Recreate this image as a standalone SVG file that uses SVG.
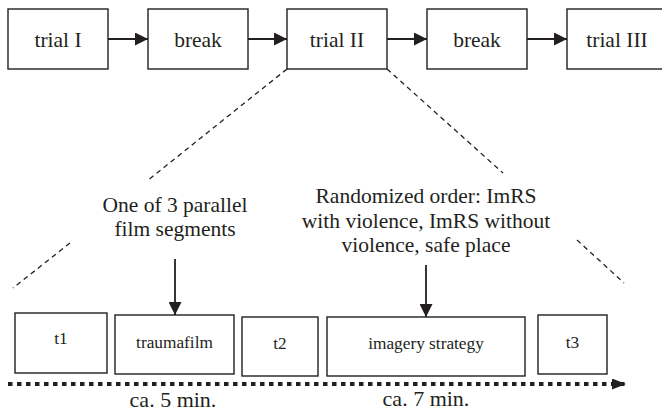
<svg xmlns="http://www.w3.org/2000/svg" width="662" height="417" viewBox="0 0 662 417">
<defs>
<style>
.box{fill:#fff;stroke:#231f20;stroke-width:1.4}
.t{font-family:"Liberation Serif","Times New Roman",serif;fill:#231f20;text-anchor:middle}
.big{font-size:21.5px}
.small{font-size:17.3px}
.arrow{stroke:#231f20;stroke-width:1.8;fill:none}
.dash{stroke:#231f20;stroke-width:1.3;stroke-dasharray:5 4;fill:none}
.dot{stroke:#231f20;stroke-width:4;stroke-dasharray:4.5 4.5;fill:none}
</style>
<marker id="ah" markerWidth="13" markerHeight="13" refX="13" refY="6.5" orient="auto" markerUnits="userSpaceOnUse"><path d="M0,0 L13,6.5 L0,13 z" fill="#231f20"/></marker>
<marker id="ah2" markerWidth="14" markerHeight="11" refX="14" refY="5.5" orient="auto" markerUnits="userSpaceOnUse"><path d="M0,0 L14,5.5 L0,11 z" fill="#231f20"/></marker>
</defs>
<rect width="662" height="417" fill="#fff"/>
<g id="trial1"><rect class="box" x="8" y="9" width="100" height="60"/><text class="t big" x="58" y="46.5">trial I</text></g>
<g id="break1"><rect class="box" x="148" y="9" width="100" height="60"/><text class="t big" x="198" y="46.5">break</text></g>
<g id="trial2"><rect class="box" x="287" y="9" width="100" height="60"/><text class="t big" x="337" y="46.5">trial II</text></g>
<g id="break2"><rect class="box" x="427" y="9" width="100" height="60"/><text class="t big" x="477" y="46.5">break</text></g>
<g id="trial3"><rect class="box" x="567" y="9" width="100" height="60"/><text class="t big" x="617" y="46.5">trial III</text></g>
<g id="note1"><text class="t big" x="175" y="212">One of 3 parallel</text><text class="t big" x="175" y="236">film segments</text></g>
<g id="note2"><text class="t big" x="426" y="203">Randomized order: ImRS</text><text class="t big" x="426" y="228">with violence, ImRS without</text><text class="t big" x="426" y="252">violence, safe place</text></g>
<g id="t1"><rect class="box" x="15" y="313" width="92" height="60"/><text class="t small" x="61" y="344">t1</text></g>
<g id="traumafilm"><rect class="box" x="115" y="315" width="119" height="59"/><text class="t small" x="174.5" y="348">traumafilm</text></g>
<g id="t2"><rect class="box" x="242" y="317" width="76" height="59"/><text class="t small" x="280" y="349">t2</text></g>
<g id="imagery"><rect class="box" x="327" y="317" width="198" height="59"/><text class="t small" x="426" y="349">imagery strategy</text></g>
<g id="t3"><rect class="box" x="538" y="315" width="69" height="59"/><text class="t small" x="572.5" y="348">t3</text></g>
<g id="timeLabels"><text class="t" style="font-size:22px" x="173" y="407">ca. 5 min.</text><text class="t" style="font-size:22px" x="426" y="406">ca. 7 min.</text></g>
<g id="connectors">
<line class="arrow" x1="108" y1="39" x2="148" y2="39" marker-end="url(#ah)"/>
<line class="arrow" x1="248" y1="39" x2="287" y2="39" marker-end="url(#ah)"/>
<line class="arrow" x1="387" y1="39" x2="427" y2="39" marker-end="url(#ah)"/>
<line class="arrow" x1="527" y1="39" x2="567" y2="39" marker-end="url(#ah)"/>
<line class="dash" x1="287" y1="69" x2="147" y2="181"/>
<line class="dash" x1="70" y1="243" x2="13" y2="288"/>
<line class="dash" x1="387" y1="69" x2="503" y2="173"/>
<line class="dash" x1="577" y1="240" x2="624" y2="283"/>
<line class="arrow" x1="175" y1="259" x2="175" y2="315" marker-end="url(#ah)"/>
<line class="arrow" x1="426" y1="265" x2="426" y2="317" marker-end="url(#ah)"/>
<line class="dot" x1="8" y1="384" x2="626" y2="384" marker-end="url(#ah2)"/>
</g>
</svg>
